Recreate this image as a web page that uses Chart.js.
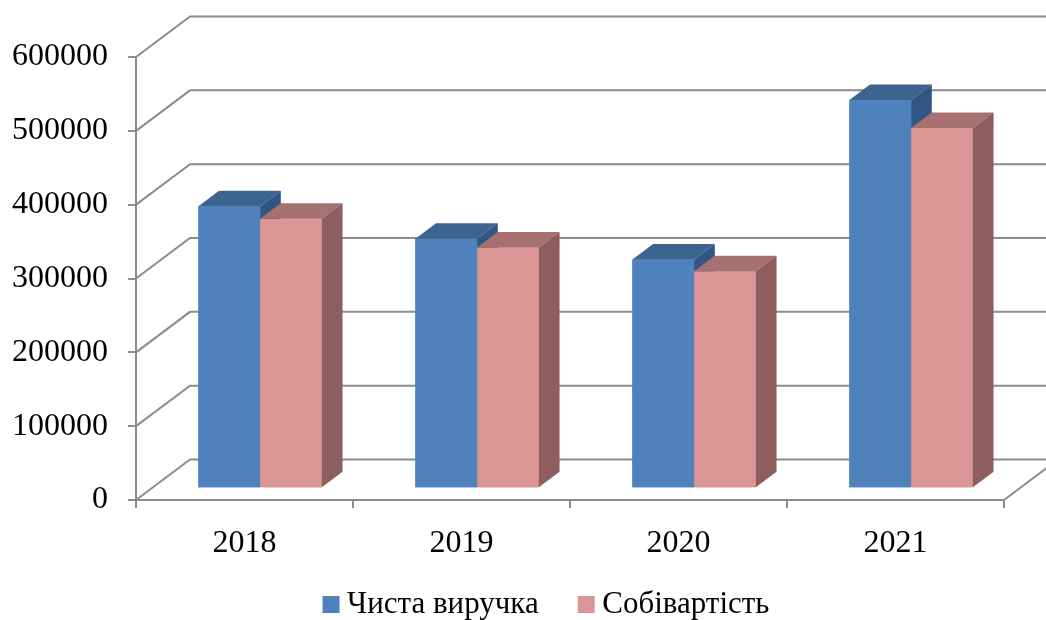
<!DOCTYPE html>
<html>
<head>
<meta charset="utf-8">
<script src="https://cdn.jsdelivr.net/npm/chart.js@4/dist/chart.umd.min.js"></script>
<style>
  html, body { margin: 0; padding: 0; background: #fff; overflow: hidden; }
  canvas { display: block; }
</style>
</head>
<body>
<canvas id="salesChart" width="1046" height="650"></canvas>
<script>
const years = ['2018', '2019', '2020', '2021'];
const revenue = [382000, 338000, 310000, 526000];
const costs = [365000, 326000, 294000, 488000];
const yTicks = [0, 100000, 200000, 300000, 400000, 500000, 600000];

const serif = "'Liberation Serif', 'Times New Roman', serif";
const gridColor = '#8c8c8c';

// depth of the "3d" box and of the bars
const wallDX = 54, wallDY = -40.5;
const barShiftX = 15.6, barShiftY = -11.7;
const barDX = 20.7, barDY = -15.5;

const faceColors = [
    { top: '#3d6391', side: '#315684' },
    { top: '#a6716f', side: '#8c5f5e' }
];

const box3d = {
    id: 'box3d',
    afterLayout(chart) {
        // legend sits a bit right of centre and closer to the axis
        const lg = chart.legend;
        lg.left += 48;
        lg.right += 48;
        lg.top -= 20;
        lg.bottom -= 20;
    },
    beforeDatasetsDraw(chart) {
        const { ctx, chartArea: a, scales: { y } } = chart;
        ctx.save();
        ctx.strokeStyle = gridColor;
        ctx.lineWidth = 2;
        y.ticks.forEach(t => {
            const py = y.getPixelForValue(t.value);
            ctx.beginPath();
            ctx.moveTo(a.left, py);
            ctx.lineTo(a.left + wallDX, py + wallDY);
            ctx.lineTo(a.right + wallDX, py + wallDY);
            ctx.stroke();
        });
        const y0 = y.getPixelForValue(0);
        ctx.beginPath();
        ctx.moveTo(a.right, y0);
        ctx.lineTo(a.right + wallDX, y0 + wallDY);
        ctx.stroke();
        ctx.restore();

        // bars stand a bit back from the front edge
        ctx.save();
        ctx.translate(barShiftX, barShiftY);
    },
    afterDatasetsDraw(chart) {
        const ctx = chart.ctx;
        // redraw in series order so each front face hides the previous side face
        chart.data.datasets.forEach((ds, i) => {
            const c = faceColors[i];
            chart.getDatasetMeta(i).data.forEach(bar => {
                bar.draw(ctx);
                const { x, y, base, width } = bar.getProps(['x', 'y', 'base', 'width'], true);
                const l = x - width / 2, r = x + width / 2;
                ctx.fillStyle = c.top;
                ctx.beginPath();
                ctx.moveTo(l, y);
                ctx.lineTo(r, y);
                ctx.lineTo(r + barDX, y + barDY);
                ctx.lineTo(l + barDX, y + barDY);
                ctx.closePath();
                ctx.fill();
                ctx.fillStyle = c.side;
                ctx.beginPath();
                ctx.moveTo(r, y);
                ctx.lineTo(r + barDX, y + barDY);
                ctx.lineTo(r + barDX, base + barDY);
                ctx.lineTo(r, base);
                ctx.closePath();
                ctx.fill();
            });
        });
        ctx.restore();
    }
};

const ctx = document.getElementById('salesChart').getContext('2d');
new Chart(ctx, {
    type: 'bar',
    data: {
        labels: years,
        datasets: [{
            label: 'Чиста виручка',
            data: revenue,
            backgroundColor: '#4f81bd',
            borderWidth: 0
        }, {
            label: 'Собівартість',
            data: costs,
            backgroundColor: '#d99694',
            borderWidth: 0
        }]
    },
    options: {
        responsive: false,
        animation: false,
        devicePixelRatio: 1,
        layout: { padding: { top: 57, right: 42, left: 0, bottom: 0 } },
        datasets: {
            bar: { barPercentage: 1, categoryPercentage: 0.569 }
        },
        plugins: {
            tooltip: { enabled: false },
            legend: {
                position: 'bottom',
                labels: {
                    font: { family: serif, size: 31 },
                    color: '#000',
                    usePointStyle: true,
                    pointStyle: 'rect',
                    boxWidth: 1,
                    boxHeight: 17,
                    padding: 47
                }
            }
        },
        scales: {
            x: {
                afterFit(scale) {
                    scale.height = 62;
                },
                grid: {
                    offset: true,
                    drawOnChartArea: false,
                    color: gridColor,
                    lineWidth: 2,
                    tickLength: 8
                },
                border: { color: gridColor, width: 2 },
                ticks: {
                    font: { family: serif, size: 32 },
                    color: '#000',
                    padding: 16
                }
            },
            y: {
                min: 0,
                max: 600000,
                afterBuildTicks(scale) {
                    scale.ticks = yTicks.map(v => ({ value: v }));
                },
                afterFit(scale) {
                    scale.width = 136;
                },
                grid: {
                    drawOnChartArea: false,
                    color: gridColor,
                    lineWidth: 2,
                    tickLength: 8
                },
                border: { color: gridColor, width: 2 },
                ticks: {
                    font: { family: serif, size: 32 },
                    color: '#000',
                    padding: 20,
                    callback: v => String(v)
                }
            }
        }
    },
    plugins: [box3d]
});
</script>
</body>
</html>
